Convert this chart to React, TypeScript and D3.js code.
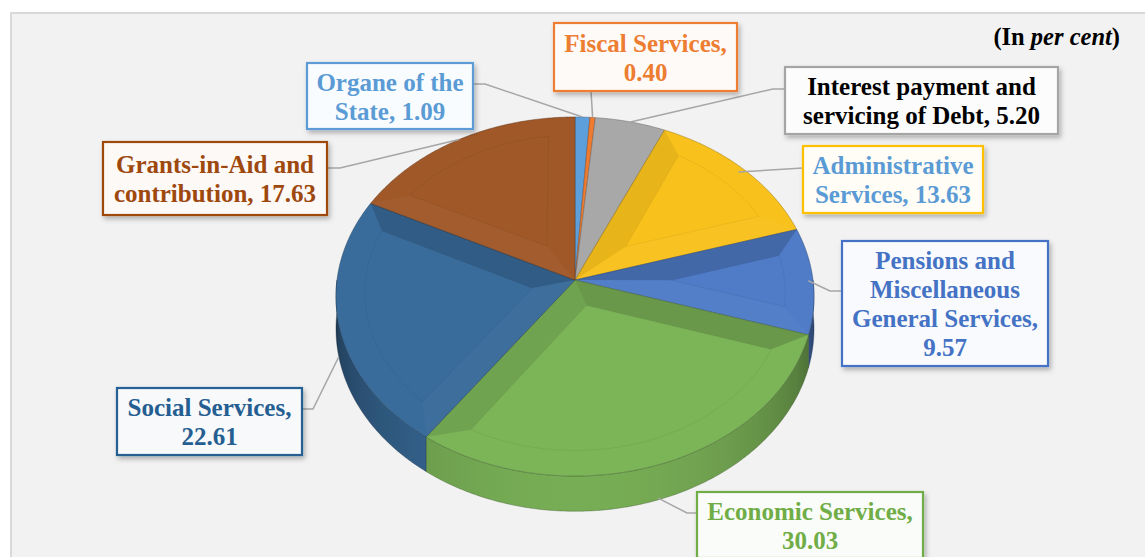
import React from "react";
import * as d3 from "d3";

const categories = [
  "Organe of the State",
  "Fiscal Services",
  "Interest payment and servicing of Debt",
  "Administrative Services",
  "Pensions and Miscellaneous General Services",
  "Economic Services",
  "Social Services",
  "Grants-in-Aid and contribution",
];
const values = [1.09, 0.4, 5.2, 13.63, 9.57, 30.03, 22.61, 17.63];
const labelLines = [
  ["Organe of the", "State, 1.09"],
  ["Fiscal Services,", "0.40"],
  ["Interest payment and", "servicing of Debt, 5.20"],
  ["Administrative", "Services, 13.63"],
  ["Pensions and", "Miscellaneous", "General Services,", "9.57"],
  ["Economic Services,", "30.03"],
  ["Social Services,", "22.61"],
  ["Grants-in-Aid and", "contribution, 17.63"],
];

// styles
const sliceColors = ["#5d9fdb", "#ee7b30", "#a8a8a8", "#f8c11c", "#4f7bc7", "#7cb458", "#3a6c9b", "#a05828"];
const textColors = ["#5b9bd5", "#ed7d31", "#000000", "#5b9bd5", "#4472c4", "#70ad47", "#255e91", "#9e480e"];
const borderColors = ["#5b9bd5", "#ed7d31", "#a5a5a5", "#ffc000", "#4472c4", "#70ad47", "#255e91", "#9e480e"];

// label boxes and leader lines (layout)
const boxes = [
  { x: 307, y: 63, w: 166, h: 66, r: 1, z: 0, elbow: [485, 84], end: [473, 84] },
  { x: 554, y: 23, w: 183, h: 68, r: 1, z: 0, elbow: null, end: [591, 91] },
  { x: 785, y: 67, w: 273, h: 67, r: 1, z: 0, elbow: [773, 89], end: [785, 89] },
  { x: 803, y: 146, w: 180, h: 67, r: 0.97, z: 0, elbow: null, end: [803, 168] },
  { x: 842, y: 241, w: 206, h: 125, r: 0.98, z: 0, elbow: [830, 291], end: [842, 291] },
  { x: 697, y: 492, w: 226, h: 66, r: 1, z: 0.95, elbow: [687, 513], end: [697, 513] },
  { x: 117, y: 388, w: 185, h: 67, r: 1, z: 1, elbow: [313, 409], end: [302, 409] },
  { x: 103, y: 142, w: 224, h: 73, r: 1, z: 0, elbow: [340, 168], end: [327, 168] },
];

const W = 1145;
const H = 557;
const CX = 575, CY = 280, A = 238, B = 178, K = 0.092, DEPTH = 32;
const DELTA = 0.12;
const FONT = "'Liberation Serif', 'Times New Roman', serif";

// perspective projection of a point on the pie (angle from 12 o'clock, clockwise)
const P = (t: number, r = 1, z = 0): [number, number] => {
  const u = r * Math.sin(t);
  const v = -r * Math.cos(t);
  const s = 1 / (1 - K * v);
  return [CX + A * u * s, CY + (B * v + z * DEPTH) * s];
};

const arcPts = (t0: number, t1: number, r = 1, z = 0) => {
  const n = Math.max(2, Math.ceil(Math.abs(t1 - t0) / 0.01));
  return d3.range(n + 1).map((i) => P(t0 + ((t1 - t0) * i) / n, r, z));
};

const closed = d3.line<[number, number]>().curve(d3.curveLinearClosed);
const open = d3.line<[number, number]>();

export default function App() {
  const arcs = d3.pie<number>().sort(null).value((d) => d)(values);

  const sideShade = (t: number) => 0.5 + 0.46 * Math.max(0, -Math.cos(t));

  return (
    <svg width={W} height={H} style={{ position: "absolute", left: 0, top: 0, display: "block" }}>
      <defs>
        <filter id="shadow" x="-10%" y="-10%" width="130%" height="140%">
          <feDropShadow dx="2" dy="3" stdDeviation="2.5" floodColor="#000" floodOpacity="0.28" />
        </filter>
        {arcs.map((a, i) => {
          const lo = Math.max(a.startAngle, Math.PI / 2);
          const hi = Math.min(a.endAngle, (3 * Math.PI) / 2);
          if (hi <= lo) return null;
          const x1 = P(hi)[0];
          const x2 = P(lo)[0];
          const stops = d3.range(13).map((j) => {
            const t = lo + ((hi - lo) * j) / 12;
            return {
              o: (P(t)[0] - x1) / (x2 - x1),
              c: d3.interpolateRgb("#000000", sliceColors[i])(sideShade(t)),
            };
          }).sort((p, q) => p.o - q.o);
          return (
            <linearGradient key={i} id={`side${i}`} gradientUnits="userSpaceOnUse" x1={x1} y1={0} x2={x2} y2={0}>
              {stops.map((s, j) => (
                <stop key={j} offset={Math.max(0, Math.min(1, s.o))} stopColor={s.c} />
              ))}
            </linearGradient>
          );
        })}
      </defs>

      <rect x={0} y={0} width={W} height={H} fill="#ffffff" />
      <rect x={11} y={13} width={W} height={H} fill="#f2f2f2" stroke="#d9d9d9" strokeWidth={2} />

      {/* side walls */}
      {arcs.map((a, i) => {
        const lo = Math.max(a.startAngle, Math.PI / 2);
        const hi = Math.min(a.endAngle, (3 * Math.PI) / 2);
        if (hi <= lo) return null;
        const pts = [...arcPts(lo, hi, 1, 0), ...arcPts(hi, lo, 1, 1)];
        return (
          <path key={`s${i}`} d={closed(pts) || ""} fill={`url(#side${i})`}
            stroke={d3.interpolateRgb("#000", sliceColors[i])(0.45)} strokeWidth={0.6} strokeOpacity={0.6} />
        );
      })}

      {/* top faces */}
      {arcs.map((a, i) => {
        const pts = [P(0, 0), ...arcPts(a.startAngle, a.endAngle)];
        return (
          <path key={`t${i}`} d={closed(pts) || ""} fill={sliceColors[i]}
            stroke={d3.interpolateRgb("#000", sliceColors[i])(0.6)} strokeWidth={0.7} strokeOpacity={0.7} />
        );
      })}

      {/* bevel */}
      {arcs.map((a, i) => {
        const a0 = a.startAngle, a1 = a.endAngle;
        const half = (a1 - a0) / 2;
        const beta = Math.asin(DELTA / (1 - DELTA));
        const d = DELTA / Math.sin(half);
        if (half < 0.3 || d > 1 - DELTA - 0.05) return null;
        const m = (a0 + a1) / 2;
        const apex = P(m, d);
        const bandA = [P(0, 0), P(a0, 1), P(a0 + beta, 1 - DELTA), apex];
        const bandB = [P(0, 0), P(a1, 1), P(a1 - beta, 1 - DELTA), apex];
        const shade = (nv: number) =>
          nv < 0 ? { fill: "#000", op: 0.16 * -nv } : { fill: "#fff", op: 0.03 * nv };
        const sa = shade(-Math.sin(a0));
        const sb = shade(Math.sin(a1));
        const inner = [apex, ...arcPts(a0 + beta, a1 - beta, 1 - DELTA)];
        return (
          <g key={`b${i}`}>
            <path d={closed(bandA as [number, number][]) || ""} fill={sa.fill} fillOpacity={sa.op} />
            <path d={closed(bandB as [number, number][]) || ""} fill={sb.fill} fillOpacity={sb.op} />
            <path d={closed(inner) || ""} fill="none"
              stroke={d3.interpolateRgb("#000", sliceColors[i])(0.6)} strokeWidth={0.6} strokeOpacity={0.22} />
          </g>
        );
      })}

      {/* leader lines */}
      {arcs.map((a, i) => {
        const b = boxes[i];
        const m = (a.startAngle + a.endAngle) / 2;
        const pts: [number, number][] = [P(m, b.r, b.z)];
        if (b.elbow) pts.push(b.elbow as [number, number]);
        pts.push(b.end as [number, number]);
        return <path key={`l${i}`} d={open(pts) || ""} fill="none" stroke="#a6a6a6" strokeWidth={1.5} />;
      })}

      {/* labels */}
      {categories.map((c, i) => {
        const b = boxes[i];
        const lines = labelLines[i];
        const cy = b.y + b.h / 2;
        const first = cy - ((lines.length - 1) * 29) / 2 + 9;
        return (
          <g key={`lab${i}`}>
            <rect x={b.x} y={b.y} width={b.w} height={b.h}
              fill={d3.interpolateRgb("#ffffff", borderColors[i])(0.035)}
              stroke={borderColors[i]} strokeWidth={2.2} filter="url(#shadow)" />
            <text x={b.x + b.w / 2} textAnchor="middle" fontFamily={FONT} fontWeight="bold"
              fontSize={25} fill={textColors[i]}>
              {lines.map((ln, j) => (
                <tspan key={j} x={b.x + b.w / 2} y={first + j * 29}>{ln}</tspan>
              ))}
            </text>
          </g>
        );
      })}

      <text x={1120} y={45} textAnchor="end" fontFamily={FONT} fontWeight="bold" fontSize={24.5} fill="#000">
        (In <tspan fontStyle="italic">per cent</tspan>)
      </text>
    </svg>
  );
}
